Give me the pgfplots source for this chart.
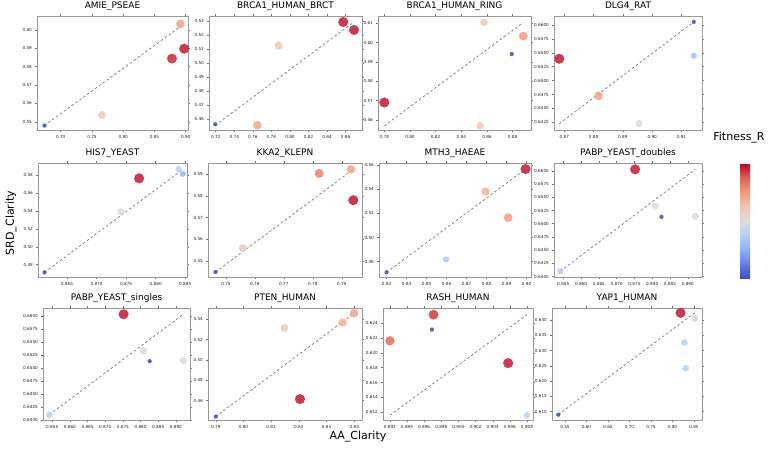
\documentclass[border=0pt]{standalone}
\usepackage{pgfplots}
\pgfplotsset{compat=1.18}
\usepackage{fontspec}
\setmainfont{DejaVu Sans}
\setsansfont{DejaVu Sans}
\pgfplotsset{
  colormap={coolwarm}{rgb255(0)=(59,76,192) rgb255(1)=(98,130,234) rgb255(2)=(141,176,254) rgb255(3)=(184,208,249) rgb255(4)=(221,220,220) rgb255(5)=(245,196,173) rgb255(6)=(244,154,123) rgb255(7)=(222,96,77) rgb255(8)=(180,4,38)},
  every axis title/.style={at={(0.5,1)}, anchor=base, yshift=7.7pt, font=\fontsize{9}{10}\selectfont},
  sub/.style={scale only axis, anchor=north west,
    axis line style={draw=black!40, line width=0.6pt},
    tick align=outside, major tick length=1.6pt,
    tick style={black!55, line width=0.4pt},
    scaled ticks=false,
    tick label style={font=\fontsize{4.2}{5}\selectfont, text=black!85},
    /pgf/number format/assume math mode=true,
    xticklabel style={/pgf/number format/fixed, /pgf/number format/fixed zerofill},
    yticklabel style={/pgf/number format/fixed, /pgf/number format/fixed zerofill},
    colormap name=coolwarm, point meta min=0, point meta max=1,
  },
  xprec/.style={xticklabel style={/pgf/number format/precision=#1}},
  yprec/.style={yticklabel style={/pgf/number format/precision=#1}},
  sc/.style={scatter, only marks, mark=*, point meta=explicit,
    scatter/use mapped color={draw=mapped color, fill=mapped color, fill opacity=0.85, draw opacity=0.85},
    visualization depends on={2.0+3.0*\thisrow{m} \as \msz},
    scatter/@pre marker code/.append style={/tikz/mark size=\msz pt},
    mark options={line width=0.1pt}},
  dl/.style={draw=black!50, dash pattern=on 2.5pt off 2.3pt, line width=0.75pt, no marks},
}
\begin{document}
\begin{tikzpicture}
\path[use as bounding box] (0,0) rectangle (768pt,448pt);

% Row 1
\begin{axis}[sub, at={(37pt,432pt)}, width=151pt, height=114.7pt, title={AMIE\_PSEAE},
  xmin=0.6621, xmax=0.9037, ymin=0.5451, ymax=0.6076,
  xtick={0.70,0.75,0.80,0.85,0.90}, ytick={0.55,0.56,0.57,0.58,0.59,0.60}, xprec=2, yprec=2]
\addplot[dl] coordinates {(0.674,0.5479) (0.8976,0.6033)};
\addplot[sc] table[meta=m] {
x y m
0.674 0.5479 0.0
0.766 0.5537 0.6
0.8915 0.6033 0.72
0.878 0.5844 0.95
0.8976 0.5898 0.97
};
\end{axis}

\begin{axis}[sub, at={(209pt,432pt)}, width=153pt, height=114.7pt, title={BRCA1\_HUMAN\_BRCT},
  xmin=0.7128, xmax=0.8776, ymin=0.4516, ymax=0.5336,
  xtick={0.72,0.74,0.76,0.78,0.80,0.82,0.84,0.86}, ytick={0.46,0.47,0.48,0.49,0.50,0.51,0.52,0.53}, xprec=2, yprec=2]
\addplot[dl] coordinates {(0.7195,0.4555) (0.869,0.5293)};
\addplot[sc] table[meta=m] {
x y m
0.7195 0.4562 0.0
0.7648 0.4555 0.72
0.7878 0.5124 0.62
0.8574 0.5293 0.97
0.869 0.5236 0.97
};
\end{axis}

\begin{axis}[sub, at={(378pt,432pt)}, width=153pt, height=114.7pt, title={BRCA1\_HUMAN\_RING},
  xmin=0.7751, xmax=0.8943, ymin=0.5544, ymax=0.6138,
  xtick={0.78,0.80,0.82,0.84,0.86,0.88}, ytick={0.56,0.57,0.58,0.59,0.60,0.61}, xprec=2, yprec=2]
\addplot[dl] coordinates {(0.78,0.5569) (0.8883,0.6105)};
\addplot[sc] table[meta=m] {
x y m
0.8793 0.5941 0.0
0.8577 0.6105 0.6
0.8547 0.5569 0.6
0.8883 0.6034 0.75
0.78 0.569 0.97
};
\end{axis}

\begin{axis}[sub, at={(554pt,432pt)}, width=148pt, height=114.7pt, title={DLG4\_RAT},
  xmin=0.8665, xmax=0.917, ymin=0.6410, ymax=0.6616,
  xtick={0.87,0.88,0.89,0.90,0.91}, ytick={0.6425,0.6450,0.6475,0.6500,0.6525,0.6550,0.6575,0.6600}, xprec=2, yprec=4]
\addplot[dl] coordinates {(0.8683,0.64226) (0.9142,0.66054)};
\addplot[sc] table[meta=m] {
x y m
0.9142 0.66054 0.0
0.9142 0.65446 0.3
0.8955 0.64226 0.5
0.8817 0.64726 0.72
0.8683 0.65392 0.97
};
\end{axis}

% Row 2
\begin{axis}[sub, at={(38pt,285pt)}, width=149pt, height=114pt, title={HIS7\_YEAST},
  xmin=0.8601, xmax=0.8853, ymin=0.4661, ymax=0.5938,
  xtick={0.865,0.870,0.875,0.880,0.885}, ytick={0.48,0.50,0.52,0.54,0.56,0.58}, xprec=3, yprec=2]
\addplot[dl] coordinates {(0.8612,0.4713) (0.8846,0.5867)};
\addplot[sc] table[meta=m] {
x y m
0.8612 0.4713 0.0
0.8846 0.5815 0.25
0.8839 0.5867 0.38
0.8741 0.5392 0.5
0.8772 0.5766 0.97
};
\end{axis}

\begin{axis}[sub, at={(208pt,285pt)}, width=154pt, height=114pt, title={KKA2\_KLEPN},
  xmin=0.7438, xmax=0.797, ymin=0.5427, ymax=0.5951,
  xtick={0.75,0.76,0.77,0.78,0.79}, ytick={0.55,0.56,0.57,0.58,0.59}, xprec=2, yprec=2]
\addplot[dl] coordinates {(0.7464,0.545) (0.794,0.5922)};
\addplot[sc] table[meta=m] {
x y m
0.7464 0.5450 0.0
0.7558 0.5560 0.6
0.7932 0.5922 0.72
0.7822 0.5903 0.8
0.7940 0.5780 0.97
};
\end{axis}

\begin{axis}[sub, at={(379pt,285pt)}, width=152pt, height=114pt, title={MTH3\_HAEAE},
  xmin=0.8262, xmax=0.9022, ymin=0.4672, ymax=0.5619,
  xtick={0.83,0.84,0.85,0.86,0.87,0.88,0.89,0.90}, ytick={0.48,0.50,0.52,0.54,0.56}, xprec=2, yprec=2]
\addplot[dl] coordinates {(0.83,0.4711) (0.8995,0.5569)};
\addplot[sc] table[meta=m] {
x y m
0.83 0.4711 0.0
0.8597 0.4818 0.35
0.8795 0.5381 0.68
0.8908 0.5165 0.75
0.8995 0.5569 0.97
};
\end{axis}

\begin{axis}[sub, at={(554pt,285pt)}, width=148pt, height=114pt, title={PABP\_YEAST\_doubles},
  xmin=0.8524, xmax=0.894, ymin=0.6399, ymax=0.6615,
  xtick={0.855,0.860,0.865,0.870,0.875,0.880,0.885,0.890}, ytick={0.6400,0.6425,0.6450,0.6475,0.6500,0.6525,0.6550,0.6575,0.6600}, xprec=3, yprec=4]
\addplot[dl] coordinates {(0.8542,0.6410) (0.8921,0.6603)};
\addplot[sc] table[meta=m] {
x y m
0.8826 0.6513 0.0
0.8542 0.6410 0.38
0.8921 0.6514 0.48
0.8808 0.6533 0.52
0.8752 0.6603 0.97
};
\end{axis}

% Row 3
\begin{axis}[sub, at={(43pt,140pt)}, width=147pt, height=112.5pt, title={PABP\_YEAST\_singles},
  xmin=0.8524, xmax=0.894, ymin=0.6399, ymax=0.6615,
  xtick={0.855,0.860,0.865,0.870,0.875,0.880,0.885,0.890}, ytick={0.6400,0.6425,0.6450,0.6475,0.6500,0.6525,0.6550,0.6575,0.6600}, xprec=3, yprec=4]
\addplot[dl] coordinates {(0.8542,0.6410) (0.8921,0.6603)};
\addplot[sc] table[meta=m] {
x y m
0.8826 0.6513 0.0
0.8542 0.6410 0.38
0.8921 0.6514 0.48
0.8808 0.6533 0.52
0.8752 0.6603 0.97
};
\end{axis}

\begin{axis}[sub, at={(208pt,140pt)}, width=154pt, height=112.5pt, title={PTEN\_HUMAN},
  xmin=0.7872, xmax=0.8428, ymin=0.4403, ymax=0.5511,
  xtick={0.79,0.80,0.81,0.82,0.83,0.84}, ytick={0.44,0.46,0.48,0.50,0.52,0.54}, xprec=2, yprec=2]
\addplot[dl] coordinates {(0.79,0.4442) (0.8399,0.5459)};
\addplot[sc] table[meta=m] {
x y m
0.79 0.4442 0.0
0.8148 0.5315 0.6
0.8358 0.5368 0.68
0.8399 0.5459 0.72
0.8204 0.4614 0.97
};
\end{axis}

\begin{axis}[sub, at={(383pt,140pt)}, width=150pt, height=112.5pt, title={RASH\_HUMAN},
  xmin=0.8912, xmax=0.9087, ymin=0.6109, ymax=0.626,
  xtick={0.892,0.894,0.896,0.898,0.900,0.902,0.904,0.906,0.908}, ytick={0.612,0.614,0.616,0.618,0.620,0.622,0.624}, xprec=3, yprec=3]
\addplot[dl] coordinates {(0.892,0.6116) (0.908,0.6251)};
\addplot[sc] table[meta=m] {
x y m
0.8969 0.6231 0.0
0.908 0.6116 0.38
0.892 0.6216 0.85
0.8971 0.6251 0.93
0.9058 0.6186 0.97
};
\end{axis}

\begin{axis}[sub, at={(552pt,140pt)}, width=150pt, height=112.5pt, title={YAP1\_HUMAN},
  xmin=0.5198, xmax=0.8687, ymin=0.6071, ymax=0.6439,
  xtick={0.55,0.60,0.65,0.70,0.75,0.80,0.85}, ytick={0.610,0.615,0.620,0.625,0.630,0.635,0.640}, xprec=2, yprec=3]
\addplot[dl] coordinates {(0.5344,0.6090) (0.8516,0.6423)};
\addplot[sc] table[meta=m] {
x y m
0.5344 0.6090 0.0
0.8277 0.6326 0.38
0.8305 0.6242 0.38
0.8516 0.6405 0.45
0.8188 0.6423 0.97
};
\end{axis}

% colorbar
\begin{axis}[at={(740pt,170pt)}, anchor=south west, hide axis, scale only axis,
  width=10pt, height=115pt, colormap name=coolwarm, point meta min=0, point meta max=1,
  colorbar, colorbar style={at={(0,0)}, anchor=south west, width=10pt, height=115pt,
  ytick=\empty, axis line style={draw=none}}]
\addplot[draw=none] coordinates {(0,0)};
\end{axis}

\node[font=\fontsize{11}{13}\selectfont] at (739pt,310pt) {Fitness\_R};
\node[font=\fontsize{11}{13}\selectfont, rotate=90] at (11pt,225pt) {SRD\_Clarity};
\node[font=\fontsize{11}{13}\selectfont] at (358pt,11pt) {AA\_Clarity};
\end{tikzpicture}
\end{document}
